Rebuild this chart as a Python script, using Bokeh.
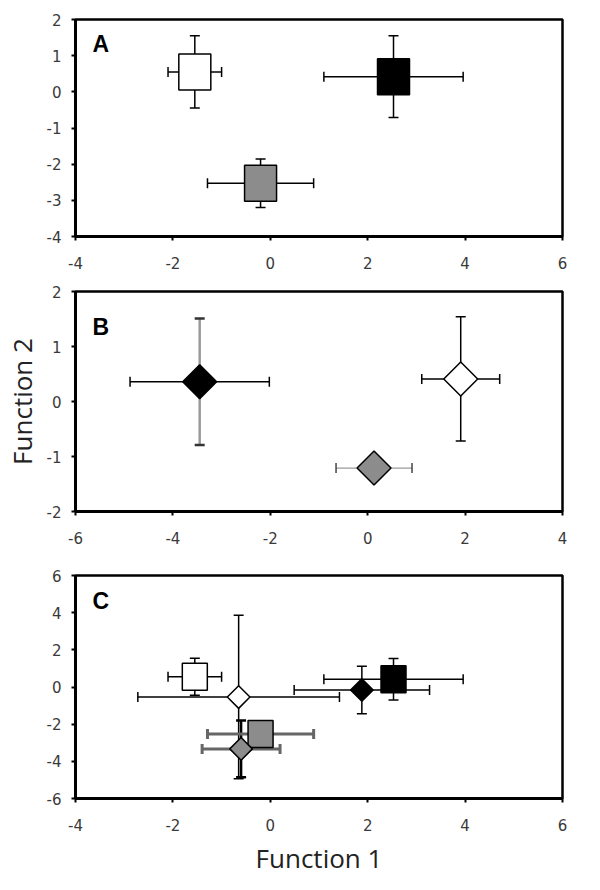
import math
from bokeh.plotting import figure
from bokeh.models import ColumnDataSource, Whisker, TeeHead, FixedTicker, Label
from bokeh.layouts import column
from bokeh.embed import file_html
from bokeh.resources import INLINE

# ---------------- data ----------------
# Panel A (squares)
a_group = ["white", "black", "gray"]
a_x = [-1.55, 2.53, -0.20]
a_y = [0.55, 0.42, -2.53]
a_xerr = [0.55, 1.43, 1.09]
a_yerr = [1.00, 1.13, 0.67]

# Panel B (diamonds)
b_group = ["black", "gray", "white"]
b_x = [-3.45, 0.13, 1.91]
b_y = [0.36, -1.21, 0.41]
b_xerr = [1.43, 0.78, 0.80]
b_yerr = [1.15, 0.20, 1.13]

# Panel C (squares + diamonds)
c_sq_group = ["white", "black", "gray"]
c_sq_x = [-1.55, 2.53, -0.20]
c_sq_y = [0.55, 0.42, -2.53]
c_sq_xerr = [0.55, 1.43, 1.09]
c_sq_yerr = [1.00, 1.12, 0.67]

c_di_group = ["white", "gray", "black"]
c_di_x = [-0.65, -0.60, 1.88]
c_di_y = [-0.54, -3.33, -0.16]
c_di_xerr = [2.07, 0.80, 1.39]
c_di_yerr = [4.40, 1.53, 1.28]

a_xticks = [-4, -2, 0, 2, 4, 6]
a_yticks = [-4, -3, -2, -1, 0, 1, 2]
b_xticks = [-6, -4, -2, 0, 2, 4]
b_yticks = [-2, -1, 0, 1, 2]
c_xticks = [-4, -2, 0, 2, 4, 6]
c_yticks = [-6, -4, -2, 0, 2, 4, 6]

x_title = "Function 1"
y_title = "Function 2"

FILL = {"white": "#ffffff", "black": "#000000", "gray": "#8c8c8c"}
TICK_FONT = "DejaVu Sans"


def make_fig(xticks, yticks, height, top, bottom):
    p = figure(width=592, height=height,
               x_range=(xticks[0], xticks[-1]), y_range=(yticks[0], yticks[-1]),
               output_backend="svg", toolbar_location=None, title=None,
               min_border_left=68, min_border_right=30,
               min_border_top=top, min_border_bottom=bottom)
    p.grid.visible = False
    p.background_fill_color = "white"
    p.border_fill_color = "white"
    p.outline_line_color = "black"
    p.outline_line_width = 2.5
    p.outline_line_alpha = 1.0
    for ax in (p.xaxis[0], p.yaxis[0]):
        ax.axis_line_width = 3
        ax.axis_line_color = "black"
        ax.major_tick_in = 0
        ax.major_tick_out = 4
        ax.major_tick_line_width = 2
        ax.minor_tick_line_color = None
        ax.major_label_text_font = TICK_FONT
        ax.major_label_text_font_size = "15px"
        ax.major_label_text_color = "#3a3a3a"
    p.xaxis[0].ticker = FixedTicker(ticks=xticks)
    p.yaxis[0].ticker = FixedTicker(ticks=yticks)
    p.xaxis[0].major_label_overrides = {t: str(t) for t in xticks}
    p.yaxis[0].major_label_overrides = {t: str(t) for t in yticks}
    p.xaxis[0].major_label_standoff = 16
    p.yaxis[0].major_label_standoff = 10
    return p


def whisker(p, base, lo, hi, dim, color, width, cap_color=None):
    cc = cap_color or color
    src = ColumnDataSource(dict(base=[base], lower=[lo], upper=[hi]))
    w = Whisker(source=src, base="base", lower="lower", upper="upper",
                dimension=dim, line_color=color, line_width=width,
                upper_head=TeeHead(size=10, line_color=cc, line_width=max(width, 1.5)),
                lower_head=TeeHead(size=10, line_color=cc, line_width=max(width, 1.5)))
    p.add_layout(w)


def errbars(p, x, y, xe, ye, hstyle=("black", 1.5, None), vstyle=("black", 1.5, None)):
    whisker(p, y, x - xe, x + xe, "width", *hstyle)
    whisker(p, x, y - ye, y + ye, "height", *vstyle)


def squares(p, xs, ys, groups, w, h):
    src = ColumnDataSource(dict(x=xs, y=ys, fill=[FILL[g] for g in groups]))
    p.rect(x="x", y="y", width=w, height=h, width_units="screen", height_units="screen",
           fill_color="fill", line_color="black", line_width=1.5, source=src)


def diamonds(p, xs, ys, groups, size):
    src = ColumnDataSource(dict(x=xs, y=ys, fill=[FILL[g] for g in groups]))
    p.scatter(x="x", y="y", marker="square", size=size, angle=math.pi / 4,
              fill_color="fill", line_color="black", line_width=1.5, source=src)


def letter(p, text, xticks, yticks, dy):
    p.add_layout(Label(x=xticks[0], y=yticks[-1], x_offset=17, y_offset=-dy,
                       text=text, text_font="Liberation Sans", text_font_style="bold",
                       text_font_size="23px", text_color="black", text_baseline="top"))


# ---------------- Panel A ----------------
pa = make_fig(a_xticks, a_yticks, 276, 19, 40)
for i in range(3):
    errbars(pa, a_x[i], a_y[i], a_xerr[i], a_yerr[i])
squares(pa, a_x, a_y, a_group, 32, 36)
letter(pa, "A", a_xticks, a_yticks, 11)

# ---------------- Panel B ----------------
pb = make_fig(b_xticks, b_yticks, 275, 15, 40)
b_h = {"black": ("black", 1.5, None), "gray": ("#9a9a9a", 1.3, "#444444"), "white": ("black", 1.5, None)}
b_v = {"black": ("#9a9a9a", 2.5, "#333333"), "gray": ("#9a9a9a", 1.3, "#444444"), "white": ("black", 1.5, None)}
for i, g in enumerate(b_group):
    errbars(pb, b_x[i], b_y[i], b_xerr[i], b_yerr[i], b_h[g], b_v[g])
diamonds(pb, b_x, b_y, b_group, 24)
letter(pb, "B", b_xticks, b_yticks, 22)
pb.yaxis[0].axis_label = y_title
pb.yaxis[0].axis_label_text_font = "Open Sans"
pb.yaxis[0].axis_label_text_font_size = "26px"
pb.yaxis[0].axis_label_text_font_style = "normal"
pb.yaxis[0].axis_label_text_color = "#222222"
pb.yaxis[0].axis_label_standoff = 4

# ---------------- Panel C ----------------
pc = make_fig(c_xticks, c_yticks, 331, 24, 84)
c_sq_h = {"white": ("black", 1.5, None), "black": ("black", 1.5, None), "gray": ("#666666", 3, None)}
c_di_h = {"white": ("black", 1.5, None), "black": ("black", 1.5, None), "gray": ("#666666", 3, None)}
c_di_v = {"white": ("black", 1.5, None), "black": ("black", 1.5, None), "gray": ("black", 2.5, None)}
for i, g in enumerate(c_di_group):
    errbars(pc, c_di_x[i], c_di_y[i], c_di_xerr[i], c_di_yerr[i], c_di_h[g], c_di_v[g])
for i, g in enumerate(c_sq_group):
    errbars(pc, c_sq_x[i], c_sq_y[i], c_sq_xerr[i], c_sq_yerr[i], c_sq_h[g], ("black", 1.5, None))
squares(pc, c_sq_x, c_sq_y, c_sq_group, 25, 27)
diamonds(pc, c_di_x, c_di_y, c_di_group, 16)
letter(pc, "C", c_xticks, c_yticks, 12)
pc.xaxis[0].axis_label = x_title
pc.xaxis[0].axis_label_text_font = "Open Sans"
pc.xaxis[0].axis_label_text_font_size = "26px"
pc.xaxis[0].axis_label_text_font_style = "normal"
pc.xaxis[0].axis_label_text_color = "#222222"
pc.xaxis[0].axis_label_standoff = 6

layout = column(pa, pb, pc, spacing=0)
open("out.html", "w").write(file_html(layout, INLINE))
